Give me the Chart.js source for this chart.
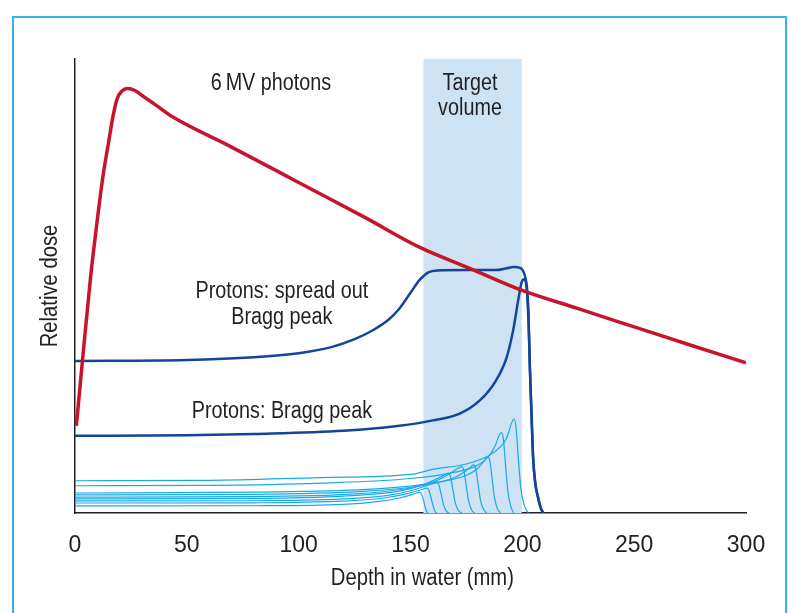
<!DOCTYPE html>
<html>
<head>
<meta charset="utf-8">
<title>Depth dose curves</title>
<script src="https://cdn.jsdelivr.net/npm/chart.js@4.4.0/dist/chart.umd.min.js"></script>
<style>
  html, body { margin: 0; padding: 0; background: #fff; }
  #wrap { position: relative; width: 791px; height: 613px; overflow: hidden; }
  #frame { position: absolute; left: 12px; top: 16px; width: 775px; height: 640px; border: 2px solid #33b5e8; box-sizing: border-box; }
  canvas { position: absolute; left: 0; top: 0; }
</style>
</head>
<body>
<div id="wrap">
  <div id="frame"></div>
  <canvas id="dose-chart" width="791" height="613"></canvas>
</div>
<script>
// x = depth in water (mm), y = relative dose (0-100, no scale shown)
const depthTicks = [0, 50, 100, 150, 200, 250, 300];
const targetVolume = [155.7, 199.8];

const photons6MV = [[0.6,19.2],[3.8,36.0],[7.0,52.1],[9.7,63.5],[12.5,74.2],[15,81.6],[17,87.4],[18.8,91.2],[20.9,92.9],[23.5,93.5],[27,93.0],[31,91.6],[36,89.9],[43.8,87.2],[70,80.6],[100,72.8],[130,65.0],[154.2,58.5],[176,54.0],[199,49.2],[225,45.0],[250,41.0],[275,37.0],[300,33.1]];

const spreadOutPeak = [[0,33.5],[50,33.7],[80,34.3],[100,35.2],[115,36.6],[125,38.3],[133,40.2],[140,42.5],[145,45.0],[150,48.5],[154,51.3],[158,53.0],[162,53.4],[175,53.5],[188,53.5],[193,53.9],[196,54.2],[199,54.0],[200.8,52.8],[202,50.0],[202.7,44.8],[203.4,31.6],[204.2,20.5],[204.8,12.4],[205.8,6.5],[207,3.5],[208.2,1.2],[209.3,0]];

const braggPeak = [[0,17.0],[50,17.1],[80,17.4],[120,18.1],[145,19.2],[160,20.4],[172,21.9],[181,24.8],[188,29.0],[193,34.3],[196,40.5],[198.2,47.0],[199.7,50.8],[200.7,51.5],[201.6,50.8],[202.3,47.0],[202.9,40.0],[203.4,31.6],[204.2,20.5],[204.8,12.4],[205.8,6.5],[207,3.5],[208.2,1.2],[209.3,0]];

// pristine peaks that add up to the spread out peak, deepest first
const pristine1 = [[0,7.1],[60,7.2],[110,7.8],[150,8.5],[160,9.6],[175,10.8],[185,12.6],[190,14.5],[193,16.5],[195.2,19.8],[196.2,20.7],[197.2,18.8],[198.2,12.0],[199.4,5.2],[201,1.5],[202.6,0]];
const pristine2 = [[0,6.0],[60,6.1],[110,6.6],[150,7.6],[170,9.0],[180,10.5],[185,12.5],[188,15.0],[189.8,17.3],[190.7,17.7],[191.6,16.0],[192.5,10.5],[193.6,4.5],[195,1.2],[196.2,0]];
const pristine3 = [[0,4.4],[80,4.6],[130,5.2],[160,6.6],[175,8.3],[180,9.8],[183,11.5],[184.5,12.4],[185.5,11.4],[186.5,7.5],[187.6,3.2],[189,0.8],[190.2,0]];
const pristine4 = [[0,4.0],[80,4.1],[130,4.8],[155,6.0],[168,7.5],[174,9.0],[177,10.2],[178.2,10.6],[179.2,9.6],[180.2,6.4],[181.3,2.8],[182.8,0.7],[184.2,0]];
const pristine5 = [[0,3.5],[80,3.6],[125,4.2],[150,5.5],[162,7.2],[168,8.8],[171.5,9.9],[172.9,10.2],[173.9,9.2],[174.9,6.1],[176,2.6],[177.4,0.6],[178.6,0]];
const pristine6 = [[0,3.1],[80,3.2],[120,3.7],[145,4.8],[156,6.3],[162,7.6],[165.5,8.5],[166.9,8.8],[167.9,7.9],[168.9,5.3],[170,2.3],[171.5,0.5],[173,0]];
const pristine7 = [[0,2.65],[80,2.7],[120,3.1],[140,3.9],[150,4.9],[157,6.0],[160.5,6.7],[161.7,6.9],[162.7,6.2],[163.7,4.2],[164.8,1.8],[166,0.4],[167.3,0]];
const pristine8 = [[0,2.2],[80,2.25],[120,2.6],[138,3.3],[148,4.2],[154,5.0],[156.4,5.4],[157.4,5.5],[158.3,4.9],[159.2,3.3],[160.2,1.4],[161,0.3],[161.8,0]];
const pristine9 = [[0,1.55],[80,1.6],[120,1.9],[135,2.5],[145,3.3],[151,4.1],[153.3,4.5],[154.2,4.6],[155,4.1],[155.8,2.8],[156.6,1.2],[157.3,0.3],[157.9,0]];

const notes = [
    { text: '6\u2009MV photons', depth: 87.6, dose: 94.5 },
    { text: 'Target', depth: 176.6, dose: 94.5 },
    { text: 'volume', depth: 176.6, dose: 89.0 },
    { text: 'Protons: spread out', depth: 92.5, dose: 48.85 },
    { text: 'Bragg peak', depth: 92.5, dose: 43.0 },
    { text: 'Protons: Bragg peak', depth: 92.5, dose: 22.25 }
];
const xTitle = 'Depth in water (mm)';
const yTitle = 'Relative dose';

const FONT = '"Liberation Sans", Arial, sans-serif';
const INK = '#231f20';
Chart.defaults.font.family = FONT;
Chart.defaults.color = INK;

const toXY = arr => arr.map(p => ({ x: p[0], y: p[1] }));

const curve = (data, color, width, order) => ({
    data: toXY(data),
    borderColor: color,
    borderWidth: width,
    fill: false,
    cubicInterpolationMode: 'monotone',
    pointRadius: 0,
    order: order
});

const pristines = [pristine1, pristine2, pristine3, pristine4, pristine5, pristine6, pristine7, pristine8, pristine9];

const datasets = [
    curve(photons6MV, '#c8142b', 3.5, 0),
    curve(spreadOutPeak, '#12469a', 2.5, 1),
    curve(braggPeak, '#12469a', 2.5, 2),
    ...pristines.map(p => curve(p, '#1aa8e6', 1.2, 3)),
    {
        data: [{ x: targetVolume[0], y: 100 }, { x: targetVolume[1], y: 100 }],
        borderWidth: 0,
        backgroundColor: '#cde2f3',
        fill: 'origin',
        pointRadius: 0,
        order: 10
    }
];

// the original uses a narrow face, so squeeze the text a bit
const squeezed = (ctx, text, px, py, rot) => {
    ctx.save();
    ctx.translate(px, py);
    if (rot) ctx.rotate(rot);
    ctx.scale(0.86, 1);
    ctx.fillText(text, 0, 0);
    ctx.restore();
};

const textLabels = {
    id: 'textLabels',
    afterDraw(chart) {
        const { ctx, chartArea, scales: { x, y } } = chart;
        ctx.save();
        ctx.fillStyle = INK;
        ctx.textAlign = 'center';
        ctx.textBaseline = 'middle';
        ctx.font = '23px ' + FONT;
        notes.forEach(n => squeezed(ctx, n.text, x.getPixelForValue(n.depth), y.getPixelForValue(n.dose)));
        ctx.font = '23.5px ' + FONT;
        squeezed(ctx, xTitle, x.getPixelForValue(155.3), chartArea.bottom + 66);
        squeezed(ctx, yTitle, chartArea.left - 24, (chartArea.top + chartArea.bottom) / 2, -Math.PI / 2);
        ctx.restore();
    }
};

new Chart(document.getElementById('dose-chart'), {
    type: 'line',
    data: { datasets },
    options: {
        responsive: false,
        animation: false,
        layout: { padding: { left: 0, right: 45, top: 59, bottom: 0 } },
        plugins: { legend: { display: false }, tooltip: { enabled: false } },
        scales: {
            x: {
                type: 'linear',
                min: 0,
                max: 300,
                z: 1,
                afterBuildTicks: s => { s.ticks = depthTicks.map(v => ({ value: v })); },
                grid: { display: false, drawTicks: false },
                border: { display: true, color: INK, width: 1.5 },
                ticks: { padding: 19, font: { size: 23 }, color: INK, maxRotation: 0, autoSkip: false },
                title: { display: false },
                afterFit: s => { s.height = 100; }
            },
            y: {
                type: 'linear',
                min: 0,
                max: 100,
                z: 1,
                grid: { display: false, drawTicks: false },
                ticks: { display: false },
                border: { display: true, color: INK, width: 1.5 },
                title: { display: false },
                afterFit: s => { s.width = 75; }
            }
        }
    },
    plugins: [textLabels]
});
</script>
</body>
</html>
